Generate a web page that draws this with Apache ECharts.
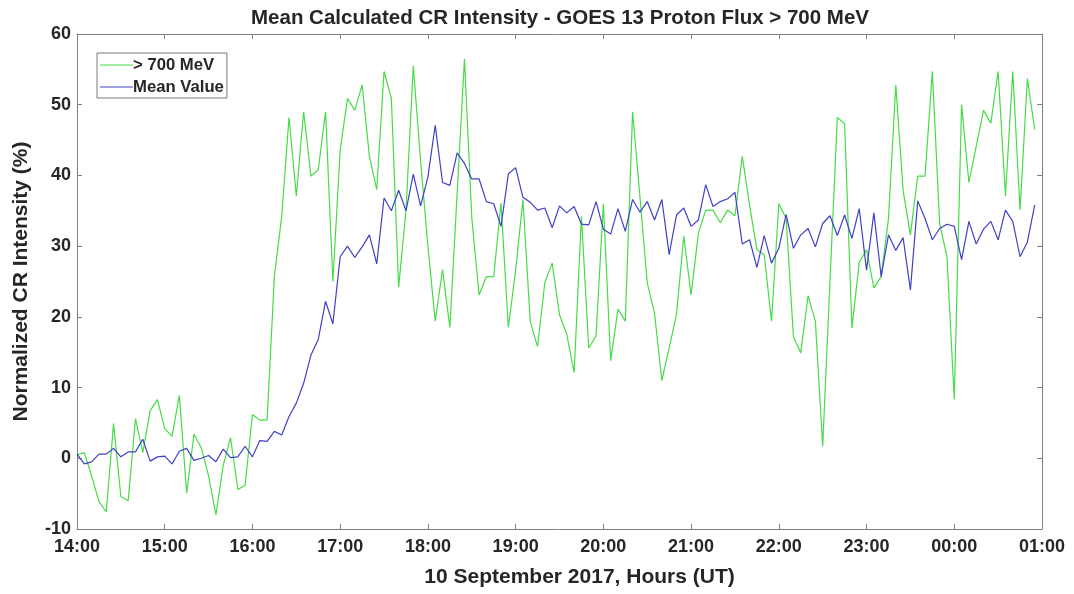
<!DOCTYPE html>
<html>
<head>
<meta charset="utf-8">
<title>Mean Calculated CR Intensity</title>
<script src="https://cdn.jsdelivr.net/npm/echarts@6/dist/echarts.min.js"></script>
<style>
  html, body { margin: 0; padding: 0; background: #fff; }
  #main { width: 1074px; height: 594px; }
</style>
</head>
<body>
<div id="main"></div>
<script>
// 5-minute samples starting 14:00 UT, 10 Sep 2017
const stepMin = 5;
const tickLabels = ['14:00', '15:00', '16:00', '17:00', '18:00', '19:00',
  '20:00', '21:00', '22:00', '23:00', '00:00', '01:00'];

// > 700 MeV normalized intensity (%)
const flux700 = [
  0.5, 0.8, -2.5, -6.1, -7.6, 4.9, -5.4, -6.0, 5.6, 0.8, 6.7, 8.3,
  4.2, 3.1, 8.9, -4.9, 3.4, 1.5, -2.5, -8.0, -1.0, 2.9, -4.4, -3.8,
  6.2, 5.4, 5.4, 25.7, 34.2, 48.2, 37.1, 49.0, 39.9, 40.8, 49.0, 25.0,
  43.6, 50.9, 49.2, 52.8, 42.7, 38.0, 54.7, 50.9, 24.2, 35.0, 55.5, 42.0,
  30.0, 19.4, 26.7, 18.5, 37.5, 56.5, 34.0, 23.1, 25.7, 25.7, 36.1, 18.5,
  26.6, 36.6, 19.3, 15.8, 24.9, 27.6, 20.3, 17.5, 12.1, 34.2, 15.6, 17.3,
  36.0, 13.8, 21.1, 19.4, 49.0, 37.0, 24.8, 20.5, 11.0, 15.6, 20.3, 31.4,
  23.1, 31.8, 35.1, 35.1, 33.3, 35.1, 34.3, 42.7, 35.8, 29.5, 28.8, 19.4,
  36.0, 33.9, 17.2, 14.9, 23.0, 19.4, 1.7, 25.0, 48.2, 47.3, 18.4, 27.7,
  29.5, 24.1, 25.7, 33.9, 52.8, 37.9, 31.6, 39.9, 39.9, 54.7, 33.2, 28.5,
  8.3, 50.0, 39.0, 44.1, 49.2, 47.4, 54.7, 37.1, 54.7, 35.1, 53.7, 46.5
];

// mean value (%)
const meanValue = [
  0.6, -0.8, -0.5, 0.6, 0.6, 1.4, 0.2, 0.9, 0.9, 2.7, -0.4, 0.2,
  0.3, -0.8, 1.0, 1.4, -0.3, 0.0, 0.4, -0.5, 1.3, 0.1, 0.2, 1.7,
  0.2, 2.5, 2.4, 3.8, 3.3, 5.9, 7.8, 10.6, 14.6, 16.8, 22.2, 19.0,
  28.5, 30.0, 28.4, 29.9, 31.6, 27.5, 36.8, 35.0, 37.9, 35.0, 40.2, 35.7,
  39.8, 47.1, 39.0, 38.6, 43.2, 41.7, 39.5, 39.5, 36.3, 36.0, 32.8, 40.2,
  41.1, 36.9, 36.2, 35.1, 35.4, 32.6, 35.7, 34.7, 35.6, 33.1, 33.0, 36.3,
  32.4, 31.7, 35.3, 32.1, 36.6, 34.8, 36.3, 33.7, 36.6, 28.8, 34.4, 35.4,
  32.8, 33.7, 38.7, 35.6, 36.3, 36.7, 37.6, 30.3, 30.9, 27.0, 31.5, 27.6,
  29.7, 34.5, 29.7, 31.6, 32.5, 29.9, 33.2, 34.3, 31.5, 34.4, 31.1, 35.3,
  26.6, 34.7, 25.7, 31.6, 29.4, 31.2, 23.8, 36.4, 33.9, 30.9, 32.5, 33.1,
  32.8, 28.1, 33.5, 30.3, 32.4, 33.5, 30.9, 35.1, 33.5, 28.5, 30.6, 35.8
];

const font = 'Liberation Sans, Arial, Helvetica, sans-serif';
const axisGray = '#808080';
const textDark = '#262626';
const green = '#45dc45';
const blue = '#4040c4';

const pairs = (vals) => vals.map((v, i) => [i * stepMin, v]);

const xMax = (tickLabels.length - 1) * 60;

const boxAxis = {
  axisLine: { show: true, onZero: false, lineStyle: { color: axisGray, width: 1 } },
  axisTick: { show: true, inside: true, length: 5, lineStyle: { color: axisGray } },
  splitLine: { show: false }
};

const chart = echarts.init(document.getElementById('main'));

const option = {
  backgroundColor: '#fff',
  animation: false,
  title: {
    text: 'Mean Calculated CR Intensity - GOES 13 Proton Flux > 700 MeV',
    left: 560,
    top: 8,
    padding: 0,
    textAlign: 'center',
    textStyle: { fontFamily: font, fontSize: 20.5, fontWeight: 'bold', color: textDark }
  },
  grid: { left: 77, right: 32, top: 34, bottom: 65 },
  legend: {
    data: [
      { name: '> 700 MeV', icon: 'rect' },
      { name: 'Mean Value', icon: 'rect' }
    ],
    orient: 'vertical',
    left: 97,
    top: 53,
    padding: [2, 3, 1, 3],
    itemGap: 2,
    itemWidth: 33,
    itemHeight: 1.2,
    borderColor: '#7a7a7a',
    borderWidth: 1,
    backgroundColor: '#fff',
    textStyle: { fontFamily: font, fontSize: 16.7, fontWeight: 'bold', color: textDark, lineHeight: 20, padding: [0, 0, 0, -5] }
  },
  xAxis: [
    Object.assign({}, boxAxis, {
      type: 'value',
      position: 'bottom',
      min: 0,
      max: xMax,
      interval: 60,
      name: '10 September 2017, Hours (UT)',
      nameLocation: 'middle',
      nameGap: 38,
      nameTextStyle: { fontFamily: font, fontSize: 21, fontWeight: 'bold', color: textDark, padding: [0, 0, 0, 40] },
      axisLabel: {
        margin: 9,
        fontFamily: font, fontSize: 18, fontWeight: 'bold', color: textDark,
        formatter: (v) => tickLabels[Math.round(v / 60)] || ''
      }
    }),
    Object.assign({}, boxAxis, {
      type: 'value',
      position: 'top',
      min: 0,
      max: xMax,
      interval: 60,
      axisLabel: { show: false }
    })
  ],
  yAxis: [
    Object.assign({}, boxAxis, {
      type: 'value',
      position: 'left',
      min: -10,
      max: 60,
      interval: 10,
      name: 'Normalized CR Intensity (%)',
      nameLocation: 'middle',
      nameGap: 45,
      nameTextStyle: { fontFamily: font, fontSize: 21, fontWeight: 'bold', color: textDark },
      axisLabel: { margin: 6, fontFamily: font, fontSize: 18, fontWeight: 'bold', color: textDark }
    }),
    Object.assign({}, boxAxis, {
      type: 'value',
      position: 'right',
      min: -10,
      max: 60,
      interval: 10,
      axisLabel: { show: false }
    })
  ],
  series: [
    {
      name: '> 700 MeV',
      type: 'line',
      data: pairs(flux700),
      symbol: 'none',
      lineStyle: { color: green, width: 1.2 },
      itemStyle: { color: green }
    },
    {
      name: 'Mean Value',
      type: 'line',
      data: pairs(meanValue),
      symbol: 'none',
      lineStyle: { color: blue, width: 1.2 },
      itemStyle: { color: blue }
    }
  ]
};

chart.setOption(option);
</script>
</body>
</html>
